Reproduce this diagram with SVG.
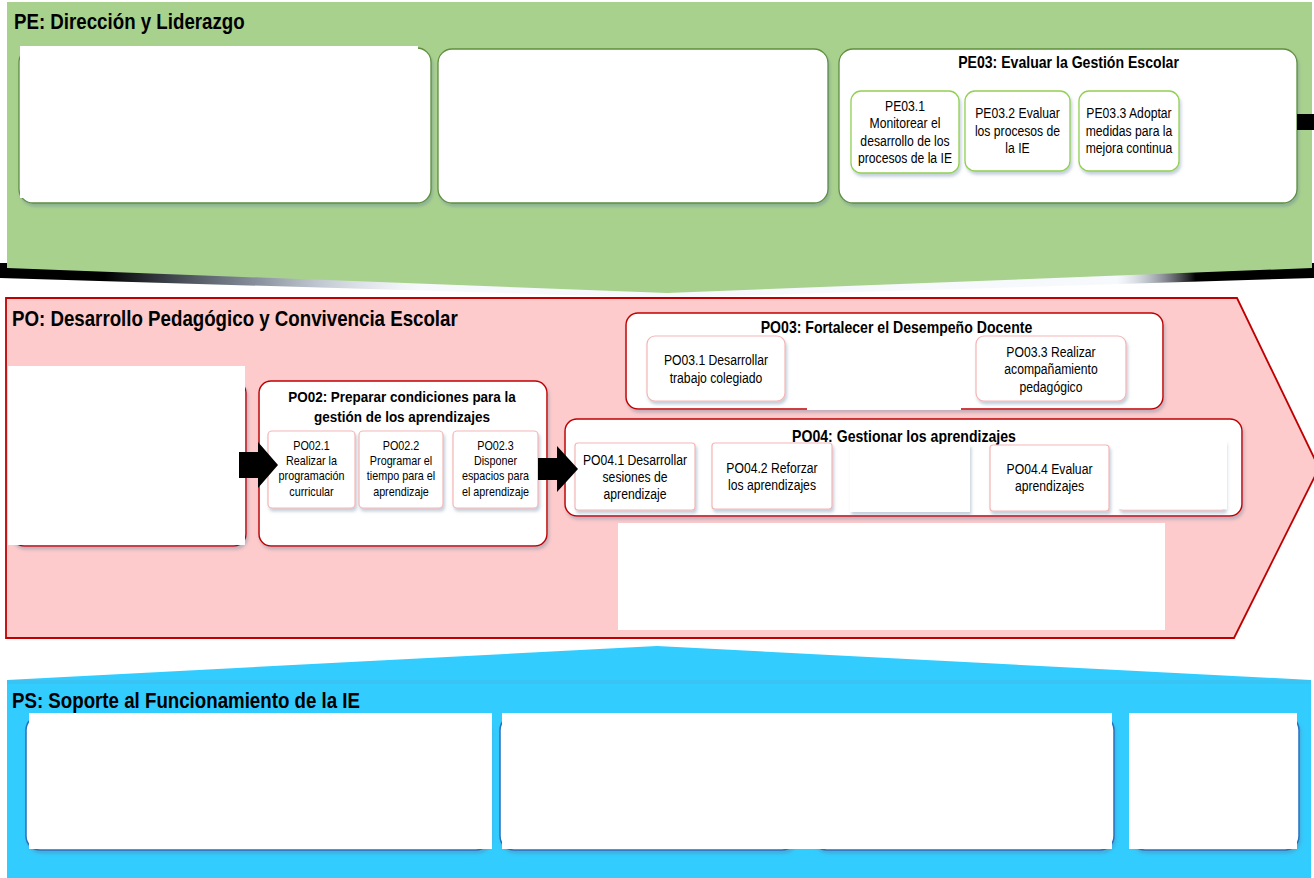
<svg xmlns="http://www.w3.org/2000/svg" width="1314" height="878" viewBox="0 0 1314 878">
<defs>
<style>
text{font-family:"Liberation Sans",Arial,sans-serif;fill:#000}
.h1{font-size:21.5px;font-weight:bold}
.h2{font-size:16.2px;font-weight:bold;text-anchor:middle}
.h3{font-size:15.5px;font-weight:bold;text-anchor:middle}
.s{font-size:14px;text-anchor:middle}
.s2{font-size:12.4px;text-anchor:middle}
.gbox{fill:#fff;stroke:#5E8E3E;stroke-width:1.3}
.gsub{fill:#fff;stroke:#92D050;stroke-width:1.3}
.rbox{fill:#fff;stroke:#C00000;stroke-width:1.5}
.rsub{fill:#fff;stroke:#F5B5B5;stroke-width:1.2}
.bbox{fill:#fff;stroke:#2470C0;stroke-width:1.5}
.mask{fill:#fff}
.arrow{fill:#000}
</style>
<filter id="sh" x="-5%" y="-5%" width="112%" height="125%">
<feDropShadow dx="1.5" dy="3" stdDeviation="1.8" flood-color="#5a7a9a" flood-opacity="0.35"/>
</filter>
<linearGradient id="pesh" x1="0" x2="1" y1="0" y2="0">
<stop offset="0" stop-color="#000" stop-opacity="1"/>
<stop offset="0.08" stop-color="#000" stop-opacity="1"/>
<stop offset="0.2" stop-color="#1a2c44" stop-opacity="0.5"/>
<stop offset="0.32" stop-color="#b8cce4" stop-opacity="0.12"/>
<stop offset="0.85" stop-color="#b8cce4" stop-opacity="0.12"/>
<stop offset="0.91" stop-color="#000" stop-opacity="1"/>
<stop offset="1" stop-color="#000" stop-opacity="1"/>
</linearGradient>
</defs>

<!-- PE band -->
<g id="PE">
<polygon points="0,263 1314,263 1314,278 667,298 0,278" fill="url(#pesh)"/>
<polygon points="7,2 1312,2 1312,268 667,293 7,268" fill="#A9D18E"/>
<text class="h1" transform="translate(14 28.5) scale(0.87 1)">PE: Dirección y Liderazgo</text>
</g>

<g id="PE01">
<rect class="gbox" x="19" y="48" width="412" height="155" rx="14" filter="url(#sh)"/>
<rect class="mask" x="20" y="46" width="398" height="152"/>
</g>

<g id="PE02">
<rect class="gbox" x="438" y="49" width="390" height="154" rx="14" filter="url(#sh)"/>
</g>

<g id="PE03">
<rect class="gbox" x="839" y="49" width="458" height="154" rx="14" filter="url(#sh)"/>
<text class="h2" transform="translate(1068.5 68) scale(0.87 1)">PE03: Evaluar la Gestión Escolar</text>
</g>
<g id="PE03.1">
<rect class="gsub" x="851" y="91" width="108" height="82" rx="10" filter="url(#sh)"/>
<text class="s" transform="translate(905 110.5) scale(0.87 1)"><tspan x="0">PE03.1</tspan><tspan x="0" dy="17.6">Monitorear  el</tspan><tspan x="0" dy="17.6">desarrollo de los</tspan><tspan x="0" dy="17.6">procesos de la IE</tspan></text>
</g>
<g id="PE03.2">
<rect class="gsub" x="965" y="91" width="105" height="80" rx="10" filter="url(#sh)"/>
<text class="s" transform="translate(1017.5 118) scale(0.87 1)"><tspan x="0">PE03.2 Evaluar</tspan><tspan x="0" dy="17.6">los procesos de</tspan><tspan x="0" dy="17.6">la IE</tspan></text>
</g>
<g id="PE03.3">
<rect class="gsub" x="1079" y="91" width="100" height="80" rx="10" filter="url(#sh)"/>
<text class="s" transform="translate(1129 118) scale(0.87 1)"><tspan x="0">PE03.3 Adoptar</tspan><tspan x="0" dy="17.6">medidas para la</tspan><tspan x="0" dy="17.6">mejora continua</tspan></text>
</g>

<!-- PO band -->
<g id="PO">
<polygon points="6,298 1237,298 1319,468 1234,638 6,638" fill="#FDCBCB" stroke="#C00000" stroke-width="1.8"/>
<text class="h1" transform="translate(12 326) scale(0.87 1)">PO: Desarrollo Pedagógico y Convivencia Escolar</text>
</g>

<g id="PO01">
<rect class="rbox" x="12" y="381" width="234" height="165" rx="12" filter="url(#sh)"/>
<rect class="mask" x="8" y="366" width="237" height="179"/>
</g>

<g id="PO02">
<rect class="rbox" x="259" y="381" width="288" height="165" rx="12" filter="url(#sh)"/>
<text class="h3" transform="translate(402 402) scale(0.87 1)"><tspan x="0">PO02: Preparar condiciones para la</tspan><tspan x="0" dy="20">gestión de los aprendizajes</tspan></text>
</g>
<g id="PO02.1">
<rect class="rsub" x="268" y="431" width="87" height="77" rx="4" filter="url(#sh)"/>
<text class="s2" transform="translate(311.5 449.5) scale(0.87 1)"><tspan x="0">PO02.1</tspan><tspan x="0" dy="15.5">Realizar la</tspan><tspan x="0" dy="15.5">programación</tspan><tspan x="0" dy="15.5">curricular</tspan></text>
</g>
<g id="PO02.2">
<rect class="rsub" x="359" y="431" width="84" height="77" rx="4" filter="url(#sh)"/>
<text class="s2" transform="translate(401 449.5) scale(0.87 1)"><tspan x="0">PO02.2</tspan><tspan x="0" dy="15.5">Programar el</tspan><tspan x="0" dy="15.5">tiempo para el</tspan><tspan x="0" dy="15.5">aprendizaje</tspan></text>
</g>
<g id="PO02.3">
<rect class="rsub" x="453" y="431" width="85" height="77" rx="4" filter="url(#sh)"/>
<text class="s2" transform="translate(495.5 449.5) scale(0.87 1)"><tspan x="0">PO02.3</tspan><tspan x="0" dy="15.5">Disponer</tspan><tspan x="0" dy="15.5">espacios para</tspan><tspan x="0" dy="15.5">el aprendizaje</tspan></text>
</g>

<g id="PO03">
<rect class="rbox" x="626" y="313" width="537" height="96" rx="12" filter="url(#sh)"/>
<text class="h2" transform="translate(896.5 333) scale(0.87 1)">PO03: Fortalecer el Desempeño Docente</text>
</g>
<g id="PO03.1">
<rect class="rsub" x="647" y="336" width="138" height="65" rx="8" filter="url(#sh)"/>
<text class="s" transform="translate(716 365) scale(0.87 1)"><tspan x="0">PO03.1 Desarrollar</tspan><tspan x="0" dy="18">trabajo colegiado</tspan></text>
</g>
<g id="PO03.2">
<rect class="mask" x="807" y="337" width="154" height="73"/>
</g>
<g id="PO03.3">
<rect class="rsub" x="976" y="336" width="150" height="65" rx="8" filter="url(#sh)"/>
<text class="s" transform="translate(1051 357) scale(0.87 1)"><tspan x="0">PO03.3 Realizar</tspan><tspan x="0" dy="17.5">acompañamiento</tspan><tspan x="0" dy="17.5">pedagógico</tspan></text>
</g>

<g id="PO04">
<rect class="rbox" x="565" y="419" width="677" height="97" rx="12" filter="url(#sh)"/>
<text class="h2" transform="translate(904 442) scale(0.87 1)">PO04: Gestionar los aprendizajes</text>
</g>
<g id="PO04.1">
<rect class="rsub" x="575" y="443" width="120" height="67" rx="3" filter="url(#sh)"/>
<text class="s" transform="translate(635 465) scale(0.87 1)"><tspan x="0">PO04.1 Desarrollar</tspan><tspan x="0" dy="17.2">sesiones de</tspan><tspan x="0" dy="17.2">aprendizaje</tspan></text>
</g>
<g id="PO04.2">
<rect class="rsub" x="712" y="443" width="120" height="66" rx="3" filter="url(#sh)"/>
<text class="s" transform="translate(772 473) scale(0.87 1)"><tspan x="0">PO04.2 Reforzar</tspan><tspan x="0" dy="17.2">los aprendizajes</tspan></text>
</g>
<g id="PO04.3">
<rect class="mask" x="850" y="444" width="120" height="68" filter="url(#sh)"/>
</g>
<g id="PO04.4">
<rect class="rsub" x="990" y="445" width="119" height="66" rx="3" filter="url(#sh)"/>
<text class="s" transform="translate(1049.5 474) scale(0.87 1)"><tspan x="0">PO04.4 Evaluar</tspan><tspan x="0" dy="17.5">aprendizajes</tspan></text>
</g>
<g id="PO04.5">
<rect class="rsub" x="1119" y="440" width="106" height="70" rx="3" filter="url(#sh)"/>
<rect class="mask" x="1117" y="437" width="110" height="72.4"/>
</g>

<g id="PO05">
<rect class="mask" x="618" y="523" width="547" height="107"/>
</g>

<!-- PS band -->
<g id="PS">
<polygon points="7,680 657,646 1311,680 1311,878 7,878" fill="#33CCFF"/>
<rect x="7" y="680" width="1304" height="4" fill="#3AC4F4"/>
<text class="h1" transform="translate(12 708) scale(0.87 1)">PS: Soporte al Funcionamiento de la IE</text>
</g>
<g id="PS01">
<rect class="bbox" x="26" y="716" width="464" height="134" rx="14" filter="url(#sh)"/>
<rect class="mask" x="29" y="713" width="463" height="136"/>
</g>
<g id="PS02">
<rect class="bbox" x="500" y="716" width="296" height="134" rx="14" filter="url(#sh)"/>
<rect class="bbox" x="813" y="716" width="301" height="134" rx="14" filter="url(#sh)"/>
<rect class="mask" x="502" y="713" width="610" height="136"/>
</g>
<g id="PS03">
<rect class="bbox" x="1131" y="716" width="168" height="134" rx="14" filter="url(#sh)"/>
<rect class="mask" x="1129" y="713" width="168" height="136"/>
</g>

<!-- connectors -->
<g id="connectors">
<polygon class="arrow" points="239,452 258,452 258,442 278,465 258,488 258,478 239,478"/>
<polygon class="arrow" points="538,458 557,458 557,446 578,469 557,492 557,480 538,480"/>
<rect class="arrow" x="1297" y="114" width="17" height="16"/>
</g>
</svg>
